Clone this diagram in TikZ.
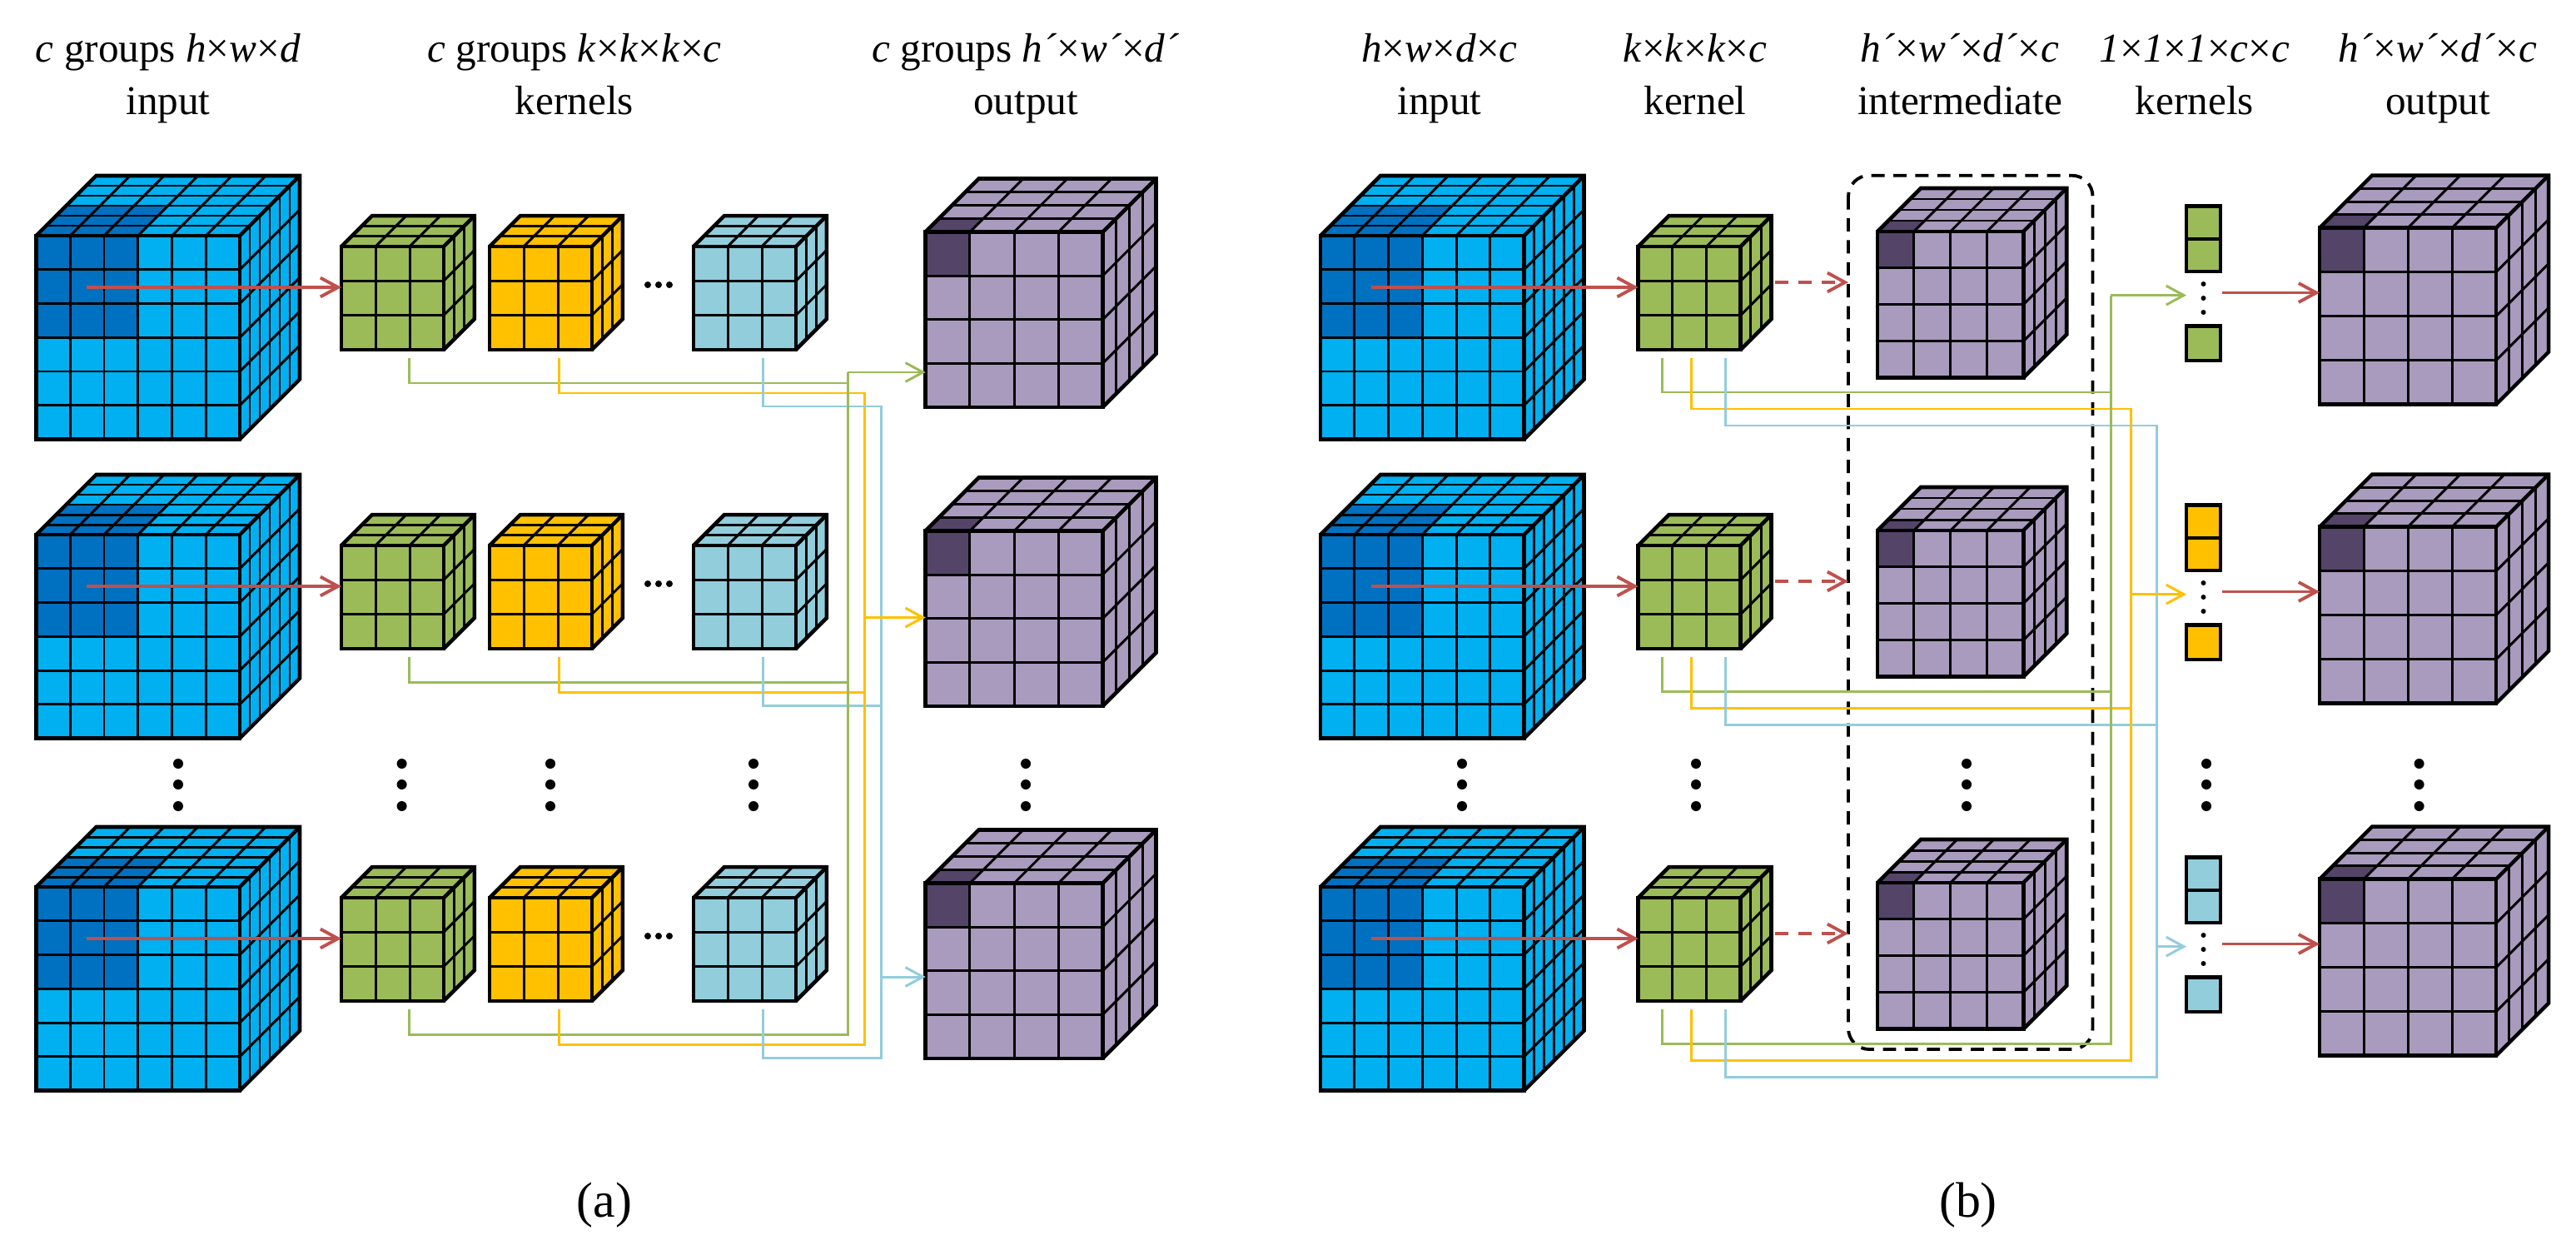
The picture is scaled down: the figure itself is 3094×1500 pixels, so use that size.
\documentclass[tikz,border=0pt]{standalone}
\usepackage{fontspec}
\setmainfont{Liberation Serif}
\usetikzlibrary{arrows.meta,calc}

\definecolor{inbase}{HTML}{00B0F0}
\definecolor{indark}{HTML}{0070C0}
\definecolor{outbase}{HTML}{A99BBD}
\definecolor{outdark}{HTML}{534468}
\definecolor{kgbase}{HTML}{9BBB59}
\definecolor{kybase}{HTML}{FFC000}
\definecolor{kbbase}{HTML}{92CDDC}
\definecolor{arrowred}{HTML}{C0504D}

\tikzset{
  cubeline/.style={line width=0.85pt},
  cubeedge/.style={line width=1.3pt},
  head/.style={font=\fontsize{14pt}{17pt}\selectfont, anchor=base, inner sep=0pt},
  sublabel/.style={font=\fontsize{17pt}{20pt}\selectfont, inner sep=0pt},
  tip/.style={-{Straight Barb[length=6pt,width=6.5pt]}},
  redarrow/.style={draw=arrowred, line width=1.1pt, tip},
  reddash/.style={redarrow, dash pattern=on 4.5pt off 3.5pt},
  gwire/.style={draw=kgbase, line width=0.85pt},
  ywire/.style={draw=kybase, line width=0.85pt},
  bwire/.style={draw=kbbase, line width=0.85pt},
  dashbox/.style={draw=black, line width=1.1pt, dash pattern=on 4.5pt off 3pt, rounded corners=0.25cm},
}

% grid cube: anchor (front top left), nx, ny, nz, cell width, cell height, depth step, colour prefix, dark cells
\newcommand{\gridcube}[9]{%
  \begin{scope}[shift={(#1)}]
    \pgfmathsetmacro\cubeW{#2*#5}
    \pgfmathsetmacro\cubeH{#3*#6}
    \pgfmathsetmacro\cubeD{#4*#7}
    \pgfmathtruncatemacro\cubeNx{#2-1}
    \pgfmathtruncatemacro\cubeNy{#3-1}
    \pgfmathtruncatemacro\cubeNz{#4-1}
    % faces
    \fill[#8base] (0,0) rectangle (\cubeW,\cubeH);
    \fill[#8base] (0,0) -- (\cubeW,0) -- (\cubeW+\cubeD,-\cubeD) -- (\cubeD,-\cubeD) -- cycle;
    \fill[#8base] (\cubeW,0) -- (\cubeW+\cubeD,-\cubeD) -- (\cubeW+\cubeD,\cubeH-\cubeD) -- (\cubeW,\cubeH) -- cycle;
    % dark corner
    \ifnum#9>0
      \fill[#8dark] (0,0) rectangle (#9*#5,#9*#6);
      \fill[#8dark] (0,0) -- (#9*#5,0) -- (#9*#5+#9*#7,-#9*#7) -- (#9*#7,-#9*#7) -- cycle;
    \fi
    % cells
    \foreach \i in {1,...,\cubeNx}{
      \draw[cubeline] (\i*#5,0) -- (\i*#5,\cubeH);
      \draw[cubeline] (\i*#5,0) -- (\i*#5+\cubeD,-\cubeD);
    }
    \foreach \j in {1,...,\cubeNy}{
      \draw[cubeline] (0,\j*#6) -- (\cubeW,\j*#6);
      \draw[cubeline] (\cubeW,\j*#6) -- (\cubeW+\cubeD,\j*#6-\cubeD);
    }
    \foreach \k in {1,...,\cubeNz}{
      \draw[cubeline] (\k*#7,-\k*#7) -- (\cubeW+\k*#7,-\k*#7);
      \draw[cubeline] (\cubeW+\k*#7,-\k*#7) -- (\cubeW+\k*#7,\cubeH-\k*#7);
    }
    % outline
    \draw[cubeedge] (0,0) rectangle (\cubeW,\cubeH);
    \draw[cubeedge] (0,0) -- (\cubeD,-\cubeD) -- (\cubeW+\cubeD,-\cubeD) -- (\cubeW+\cubeD,\cubeH-\cubeD) -- (\cubeW,\cubeH);
    \draw[cubeedge] (\cubeW,0) -- (\cubeW+\cubeD,-\cubeD);
  \end{scope}}

\begin{document}
\begin{tikzpicture}[x=0.01cm,y=-0.01cm]
  \useasboundingbox (0,0) rectangle (3094,1500);

  % Titoli (a)
  \node[head] (hA1) at (202,75) {\textit{c} groups \textit{h}×\textit{w}×\textit{d}};
  \node[head] (hA1b) at (202,137.5) {input};
  \node[head] (hA2) at (690,75) {\textit{c} groups \textit{k}×\textit{k}×\textit{k}×\textit{c}};
  \node[head] (hA2b) at (690,137.5) {kernels};
  \node[head] (hA3) at (1232,75) {\textit{c} groups \textit{h´}×\textit{w´}×\textit{d´}};
  \node[head] (hA3b) at (1232,137.5) {output};

  % Titoli (b)
  \node[head] (hB1) at (1729,75) {\textit{h}×\textit{w}×\textit{d}×\textit{c}};
  \node[head] (hB1b) at (1729,137.5) {input};
  \node[head] (hB2) at (2036,75) {\textit{k}×\textit{k}×\textit{k}×\textit{c}};
  \node[head] (hB2b) at (2036,137.5) {kernel};
  \node[head] (hB3) at (2354,75) {\textit{h´}×\textit{w´}×\textit{d´}×\textit{c}};
  \node[head] (hB3b) at (2354,137.5) {intermediate};
  \node[head] (hB4) at (2636,75) {\textit{1}×\textit{1}×\textit{1}×\textit{c}×\textit{c}};
  \node[head] (hB4b) at (2636,137.5) {kernels};
  \node[head] (hB5) at (2928,75) {\textit{h´}×\textit{w´}×\textit{d´}×\textit{c}};
  \node[head] (hB5b) at (2928,137.5) {output};

  % Bus
  \coordinate (busGA) at (1018,447);
  \coordinate (busYA) at (1038,741.5);
  \coordinate (busBA) at (1058.6,1173);
  \coordinate (busGB) at (2535,354.6);
  \coordinate (busYB) at (2559,713.6);
  \coordinate (busBB) at (2590,1136.6);

  % Riquadro intermedio
  \coordinate (boxL) at (2220,210.7);
  \coordinate (boxR) at (2513.5,1260);
  \draw[dashbox] (boxL) rectangle (boxR);

  % Righe
  \foreach \row/\dy/\col in {1/0/kgbase,2/359/kybase,3/782/kbbase}{
    % (a)
    \coordinate (inA\row) at (43.5,283+\dy);
    \gridcube{inA\row}{6}{6}{6}{40.75}{40.75}{12}{in}{3}
    \coordinate (kgA\row) at (410,296+\dy);
    \gridcube{kgA\row}{3}{3}{3}{41}{41.3}{12.3}{kg}{0}
    \coordinate (kyA\row) at (588,296+\dy);
    \gridcube{kyA\row}{3}{3}{3}{41}{41.3}{12.3}{ky}{0}
    \coordinate (kbA\row) at (833,296+\dy);
    \gridcube{kbA\row}{3}{3}{3}{41}{41.3}{12.3}{kb}{0}
    \coordinate (outA\row) at (1111.7,278.5+\dy);
    \gridcube{outA\row}{4}{4}{4}{53.2}{52.6}{16}{out}{1}
    \foreach \x in {778,791,804} \fill (\x,342+\dy) circle[radius=0.04cm];
    \coordinate (srcA\row) at (104,345+\dy);
    \draw[redarrow] (srcA\row) -- (srcA\row -| kgA\row);
    \coordinate (tgA\row) at (491,430+\dy);
    \coordinate (tyA\row) at (671,430+\dy);
    \coordinate (tbA\row) at (916.6,430+\dy);
    \draw[gwire] (tgA\row) -- ++(0,30) -| (busGA);
    \draw[ywire] (tyA\row) -- ++(0,42) -| (busYA);
    \draw[bwire] (tbA\row) -- ++(0,58) -| (busBA);

    % (b)
    \coordinate (inB\row) at (1586,283+\dy);
    \gridcube{inB\row}{6}{6}{6}{40.75}{40.75}{12}{in}{3}
    \coordinate (kB\row) at (1967.6,296+\dy);
    \gridcube{kB\row}{3}{3}{3}{41}{41.3}{12.3}{kg}{0}
    \coordinate (midB\row) at (2255,278+\dy);
    \gridcube{midB\row}{4}{4}{4}{43.8}{43.9}{13}{out}{1}
    \coordinate (outB\row) at (2786,273.7+\dy);
    \gridcube{outB\row}{4}{4}{4}{53}{53}{15.75}{out}{1}
    \coordinate (srcB\row) at (1647,345+\dy);
    \draw[redarrow] (srcB\row) -- (srcB\row -| kB\row);
    \coordinate (dsB\row) at (2132,339+\dy);
    \draw[reddash] (dsB\row) -- (dsB\row -| boxL);
    \coordinate (tgB\row) at (1996,430+\dy);
    \coordinate (tyB\row) at (2031,430+\dy);
    \coordinate (tbB\row) at (2072,430+\dy);
    \draw[gwire] (tgB\row) -- ++(0,41) -| (busGB);
    \draw[ywire] (tyB\row) -- ++(0,61) -| (busYB);
    \draw[bwire] (tbB\row) -- ++(0,81) -| (busBB);

    % kernel 1x1x1
    \coordinate (barB\row) at (2626,247.7+\dy);
    \draw[cubeedge, fill=\col] (barB\row) rectangle ++(41,39.25) rectangle ++(-41,39.25);
    \draw[cubeedge, fill=\col] ($(barB\row)+(0,143.8)$) rectangle ++(41,41.5);
    \foreach \y in {341,358,375} \fill (2646.5,\y+\dy) circle[radius=0.03cm];
    \coordinate (rbB\row) at (2669,351.5+\dy);
    \draw[redarrow] (rbB\row) -- (rbB\row -| outB\row);
  }

  % Frecce verso output
  \draw[gwire, tip] (busGA) -- (busGA -| outA1);
  \draw[ywire, tip] (busYA) -- (busYA -| outA1);
  \draw[bwire, tip] (busBA) -- (busBA -| outA1);
  \draw[gwire, tip] (busGB) -- (busGB -| barB1);
  \draw[ywire, tip] (busYB) -- (busYB -| barB1);
  \draw[bwire, tip] (busBB) -- (busBB -| barB1);

  % Puntini verticali
  \foreach \x in {214,482.6,661,905,1232,1756,2037,2362,2650,2905.6}
    \foreach \y in {917,942,968}
      \fill (\x,\y) circle[radius=0.06cm];

  % Etichette
  \node[sublabel] (labA) at (726,1447) {(a)};
  \node[sublabel] (labB) at (2364,1447) {(b)};
\end{tikzpicture}
\end{document}
